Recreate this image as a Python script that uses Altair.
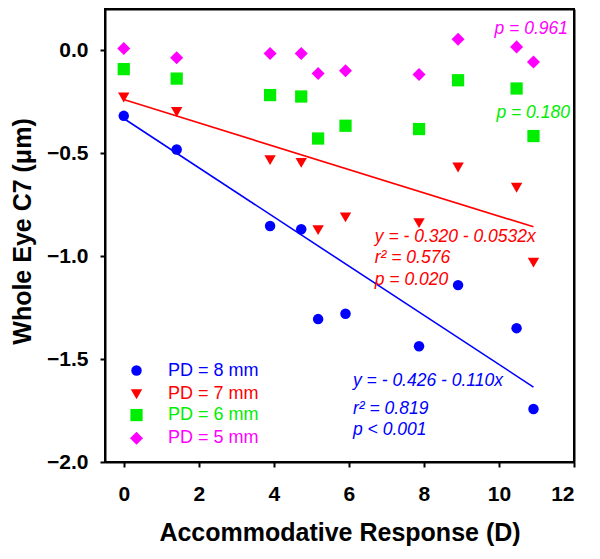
import altair as alt
import pandas as pd

# ---- data ----
accom = [0.0, 1.41, 3.9, 4.73, 5.18, 5.91, 7.87, 8.91, 10.47, 10.92]
pd8 = [-0.319, -0.482, -0.854, -0.870, -1.306, -1.280, -1.438, -1.141, -1.350, -1.743]
pd7 = [-0.230, -0.300, -0.534, -0.547, -0.874, -0.812, -0.840, -0.570, -0.668, -1.032]
pd6 = [-0.092, -0.138, -0.218, -0.225, -0.429, -0.367, -0.383, -0.146, -0.186, -0.417]
pd5 = [0.008, -0.037, -0.016, -0.016, -0.113, -0.100, -0.118, 0.053, 0.016, -0.057]

series_names = ["PD = 8 mm", "PD = 7 mm", "PD = 6 mm", "PD = 5 mm"]
series_colors = ["#0000ff", "#ff0000", "#00ee00", "#ff00ff"]
series_shapes = ["circle", "triangle-down", "square", "diamond"]

# fitted lines (end points)
fit_x = [0.0, 10.92]
fit_pd8 = [-0.332, -1.636]
fit_pd7 = [-0.240, -0.858]

x_ticks = [0, 2, 4, 6, 8, 10, 12]
y_ticks = [0.0, -0.5, -1.0, -1.5, -2.0]

X_DOMAIN = [-0.5, 12]
Y_DOMAIN = [-2.0, 0.2]

FONT = "Liberation Sans"
W, H = 469, 453

rows = []
for name, vals in zip(series_names, [pd8, pd7, pd6, pd5]):
    for xv, yv in zip(accom, vals):
        rows.append({"x": xv, "y": yv, "series": name})
df = pd.DataFrame(rows)

fit_rows = []
for name, vals in [("PD = 8 mm", fit_pd8), ("PD = 7 mm", fit_pd7)]:
    for xv, yv in zip(fit_x, vals):
        fit_rows.append({"x": xv, "y": yv, "series": name})
fit_df = pd.DataFrame(fit_rows)

# annotations
ann = pd.DataFrame([
    {"x": 11.84, "y": 0.105, "t": "p = 0.961", "series": "PD = 5 mm", "al": "right"},
    {"x": 11.89, "y": -0.304, "t": "p = 0.180", "series": "PD = 6 mm", "al": "right"},
    {"x": 6.69, "y": -0.908, "t": "y = - 0.320 - 0.0532x", "series": "PD = 7 mm", "al": "left"},
    {"x": 6.69, "y": -1.010, "t": "r\u00b2 = 0.576", "series": "PD = 7 mm", "al": "left"},
    {"x": 6.69, "y": -1.117, "t": "p = 0.020", "series": "PD = 7 mm", "al": "left"},
    {"x": 6.11, "y": -1.607, "t": "y = - 0.426 - 0.110x", "series": "PD = 8 mm", "al": "left"},
    {"x": 6.11, "y": -1.743, "t": "r\u00b2 = 0.819", "series": "PD = 8 mm", "al": "left"},
    {"x": 6.11, "y": -1.845, "t": "p < 0.001", "series": "PD = 8 mm", "al": "left"},
])

legend_y = [-1.556, -1.671, -1.772, -1.885]
leg = pd.DataFrame({"series": series_names, "y": legend_y})
leg["xs"] = 0.34
leg["xt"] = 1.18

xscale = alt.Scale(domain=X_DOMAIN, nice=False, zero=False)
yscale = alt.Scale(domain=Y_DOMAIN, nice=False, zero=False)
cscale = alt.Scale(domain=series_names, range=series_colors)
sscale = alt.Scale(domain=series_names, range=series_shapes)
zscale = alt.Scale(domain=series_names, range=[110, 170, 110, 190])

xaxis = alt.Axis(values=x_ticks, format="d", grid=False, title="Accommodative Response (D)",
                 labelFont=FONT, labelFontSize=21, labelFontWeight="bold", labelColor="black",
                 titleFont=FONT, titleFontSize=25, titleFontWeight="bold", titleColor="black",
                 tickSize=5, tickWidth=2, tickColor="black", domainColor="black", domainWidth=2,
                 labelPadding=16, titleX=234.5, titleY=78, titleBaseline="alphabetic",
                 titleAnchor="middle")
yaxis = alt.Axis(values=y_ticks, format=".1f", grid=False, title="Whole Eye C7 (\u03bcm)",
                 labelFont=FONT, labelFontSize=21, labelFontWeight="bold", labelColor="black",
                 titleFont=FONT, titleFontSize=25, titleFontWeight="bold", titleColor="black",
                 tickSize=5, tickWidth=2, tickColor="black", domainColor="black", domainWidth=2,
                 labelPadding=12, titleX=-83, titleY=222, titleAngle=270,
                 titleBaseline="middle", titleAlign="center")

# frame axes (top and right): domain line only
top_axis = alt.Axis(orient="top", labels=False, ticks=False, grid=False, title=None,
                    domainColor="black", domainWidth=2)
right_axis = alt.Axis(orient="right", labels=False, ticks=False, grid=False, title=None,
                      domainColor="black", domainWidth=2)

frame = alt.Chart(df).mark_point(opacity=0).encode(
    x=alt.X("x:Q", scale=xscale, axis=top_axis),
    y=alt.Y("y:Q", scale=yscale, axis=right_axis),
)

lines = alt.Chart(fit_df).mark_line(strokeWidth=1.6).encode(
    x=alt.X("x:Q", scale=xscale, axis=xaxis),
    y=alt.Y("y:Q", scale=yscale, axis=yaxis),
    color=alt.Color("series:N", scale=cscale, legend=None),
    detail="series:N",
)

points = alt.Chart(df).mark_point(filled=True, opacity=1).encode(
    x=alt.X("x:Q", axis=None), y=alt.Y("y:Q", axis=None),
    color=alt.Color("series:N", scale=cscale, legend=None),
    shape=alt.Shape("series:N", scale=sscale, legend=None),
    size=alt.Size("series:N", scale=zscale, legend=None),
)

texts_r = alt.Chart(ann[ann.al == "right"]).mark_text(
    font=FONT, fontSize=17.5, fontStyle="italic", align="right", baseline="middle").encode(
    x=alt.X("x:Q", axis=None), y=alt.Y("y:Q", axis=None), text="t:N",
    color=alt.Color("series:N", scale=cscale, legend=None),
)
texts_l = alt.Chart(ann[ann.al == "left"]).mark_text(
    font=FONT, fontSize=17.5, fontStyle="italic", align="left", baseline="middle").encode(
    x=alt.X("x:Q", axis=None), y=alt.Y("y:Q", axis=None), text="t:N",
    color=alt.Color("series:N", scale=cscale, legend=None),
)

leg_pts = alt.Chart(leg).mark_point(filled=True, opacity=1).encode(
    x=alt.X("xs:Q", axis=None), y=alt.Y("y:Q", axis=None),
    color=alt.Color("series:N", scale=cscale, legend=None),
    shape=alt.Shape("series:N", scale=sscale, legend=None),
    size=alt.Size("series:N", scale=zscale, legend=None),
)
leg_txt = alt.Chart(leg).mark_text(font=FONT, fontSize=18, align="left", baseline="middle").encode(
    x=alt.X("xt:Q", axis=None), y=alt.Y("y:Q", axis=None), text="series:N",
    color=alt.Color("series:N", scale=cscale, legend=None),
)

chart = alt.layer(lines, frame, points, texts_r, texts_l, leg_pts, leg_txt).resolve_axis(
    x="independent", y="independent"
).properties(
    width=W, height=H,
    background="white",
    autosize=alt.AutoSizeParams(type="none"),
    padding={"left": 97, "top": 1, "right": 10, "bottom": 88},
).configure_view(stroke="black", strokeWidth=2)

chart.save("out.html", embed_options={"renderer": "svg", "actions": False})
